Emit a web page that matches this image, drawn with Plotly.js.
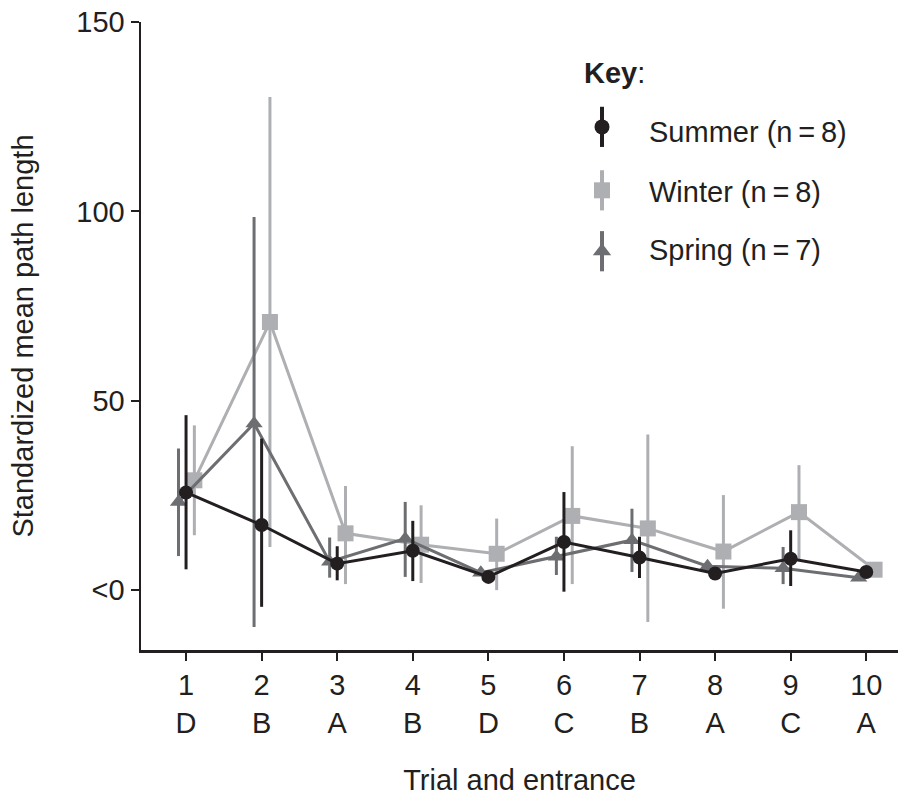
<!DOCTYPE html>
<html>
<head>
<meta charset="utf-8">
<script src="https://cdn.plot.ly/plotly-3.0.1.min.js"></script>
<style>html,body{margin:0;padding:0;background:#fff;}#chart{width:898px;height:799px;}</style>
</head>
<body>
<div id="chart"></div>
<script>
// ---- data ----
var trials = [1, 2, 3, 4, 5, 6, 7, 8, 9, 10];
var entrances = ["D", "B", "A", "B", "D", "C", "B", "A", "C", "A"];

var summerMean  = [25.8, 17.2, 7.0, 10.4, 3.5, 12.7, 8.6, 4.4, 8.3, 4.8];
var summerUpper = [46.2, 40.0, 11.6, 18.3, 4.6, 25.9, 14.1, 5.5, 15.8, 5.8];
var summerLower = [5.5, -4.4, 2.6, 2.4, 2.5, -0.4, 3.2, 3.3, 1.1, 3.8];

var winterMean  = [29.0, 70.8, 15.0, 12.0, 9.6, 19.6, 16.3, 10.2, 20.6, 5.4];
var winterUpper = [43.5, 130.2, 27.5, 22.4, 18.9, 38.0, 41.1, 25.1, 33.0, 6.0];
var winterLower = [14.5, 11.4, 1.6, 1.9, 0.0, 1.6, -8.4, -4.9, 8.2, 4.8];

var springMean  = [23.3, 44.0, 7.5, 13.6, 4.6, 8.8, 13.2, 6.3, 5.8, 3.3];
var springUpper = [37.4, 98.5, 13.9, 23.3, 5.5, 14.1, 21.5, 7.5, 11.4, 4.0];
var springLower = [9.0, -9.7, 3.3, 3.5, 3.7, 4.0, 4.8, 5.0, 1.6, 2.6];

var yTickVals = [0, 50, 100, 150];
var yTickText = ["<0", "50", "100", "150"];

var seriesNames = ["Summer (n\u2009=\u20098)", "Winter (n\u2009=\u20098)", "Spring (n\u2009=\u20097)"];

// ---- styling ----
var FONT = "Liberation Sans, Arial, Helvetica, sans-serif";
var FS = 29;
var INK = "#231f20";
var cSummer = "#231f20", cWinter = "#aeafb2", cSpring = "#6d6e71";

function makeTrace(mean, upper, lower, offset, color, symbol, size) {
  return {
    type: "scatter",
    mode: "lines+markers",
    x: trials.map(function (t) { return t + offset; }),
    y: mean,
    line: {color: color, width: 3},
    marker: {color: color, symbol: symbol, size: size},
    error_y: {
      type: "data", symmetric: false,
      array: upper.map(function (u, i) { return u - mean[i]; }),
      arrayminus: lower.map(function (l, i) { return mean[i] - l; }),
      color: color, thickness: 3, width: 0
    },
    showlegend: false, hoverinfo: "skip"
  };
}

var traces = [
  makeTrace(winterMean, winterUpper, winterLower, 0.11, cWinter, "square", 16),
  makeTrace(springMean, springUpper, springLower, -0.1, cSpring, "triangle-up", 15),
  makeTrace(summerMean, summerUpper, summerLower, 0.0, cSummer, "circle", 14)
];

// ---- custom key (legend glyphs on an overlay axis in 0..1 space) ----
var keyX = 0.609;
var keyRows = [0.833, 0.732, 0.635];
var keyTextRows = [0.825, 0.730, 0.637];
var keyColors = [cSummer, cWinter, cSpring];
var keySymbols = ["circle", "square", "triangle-up"];
var keySizes = [15, 16, 16];
keyRows.forEach(function (ky, i) {
  traces.push({
    type: "scatter", mode: "markers", xaxis: "x2", yaxis: "y2",
    x: [keyX], y: [ky],
    marker: {color: keyColors[i], symbol: keySymbols[i], size: keySizes[i]},
    error_y: {type: "constant", value: 0.032, color: keyColors[i], thickness: 4, width: 0},
    showlegend: false, hoverinfo: "skip"
  });
});

var annotations = [
  {xref: "paper", yref: "paper", x: 0.582, y: 0.918, xanchor: "left", yanchor: "middle",
   text: "<b>Key</b>:", showarrow: false, font: {family: FONT, size: FS, color: INK}}
];
seriesNames.forEach(function (nm, i) {
  annotations.push({xref: "paper", yref: "paper", x: 0.668, y: keyTextRows[i],
    xanchor: "left", yanchor: "middle", text: nm, showarrow: false,
    font: {family: FONT, size: FS, color: INK}});
});

var layout = {
  width: 898, height: 799,
  margin: {l: 141, r: 0, t: 22, b: 149},
  paper_bgcolor: "#ffffff", plot_bgcolor: "#ffffff",
  font: {family: FONT, size: FS, color: INK},
  xaxis: {
    range: [0.404, 10.42], showgrid: false, zeroline: false,
    showline: true, linecolor: INK, linewidth: 2.5,
    ticks: "outside", ticklen: 8, tickwidth: 2, tickcolor: INK,
    tickvals: trials,
    ticktext: trials.map(function (t, i) { return t + "<br>" + entrances[i]; }),
    tickfont: {family: FONT, size: FS, color: INK},
    title: {text: "Trial and entrance", font: {family: FONT, size: FS, color: INK}, standoff: 32}
  },
  yaxis: {
    range: [-15.8, 150], showgrid: false, zeroline: false,
    showline: true, linecolor: INK, linewidth: 2.5,
    ticks: "outside", ticklen: 8, tickwidth: 2, tickcolor: INK,
    tickvals: yTickVals, ticktext: yTickText,
    tickfont: {family: FONT, size: FS, color: INK},
    title: {text: "Standardized mean path length", font: {family: FONT, size: FS, color: INK}, standoff: 34}
  },
  xaxis2: {overlaying: "x", anchor: "y2", range: [0, 1], visible: false, fixedrange: true},
  yaxis2: {overlaying: "y", anchor: "x2", range: [0, 1], visible: false, fixedrange: true},
  annotations: annotations
};

Plotly.newPlot("chart", traces, layout, {displayModeBar: false, staticPlot: true});
</script>
</body>
</html>
